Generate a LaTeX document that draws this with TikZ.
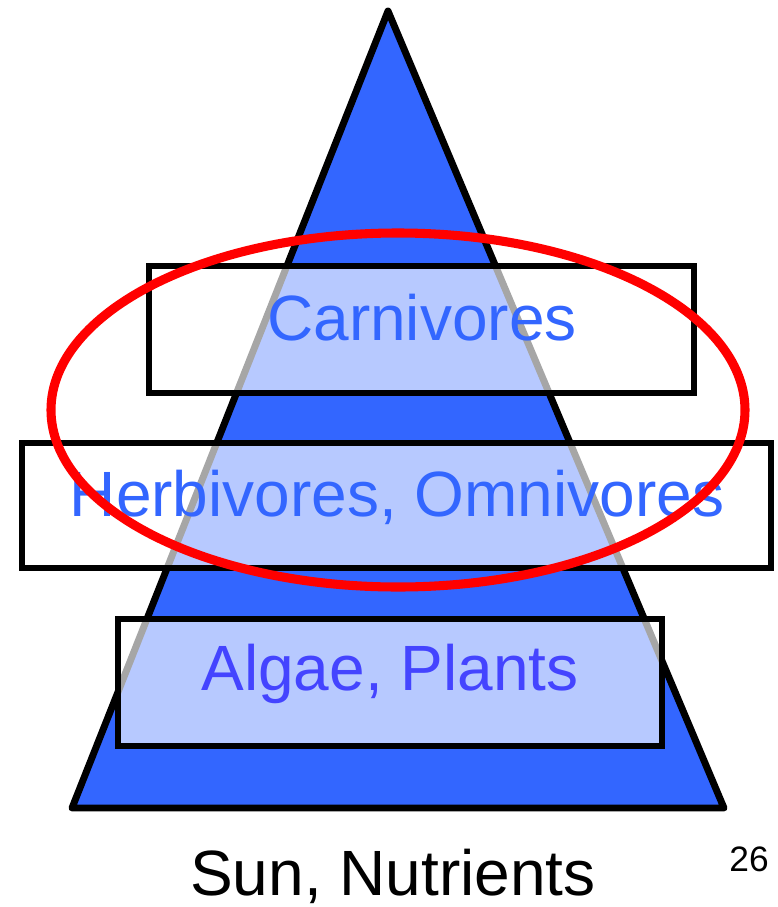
\documentclass[tikz,border=0pt]{standalone}
\usepackage{fontspec}
\setmainfont{Liberation Sans}
\definecolor{triblue}{HTML}{3366FF}
\definecolor{txtblue}{HTML}{3366FF}
\definecolor{txtpurple}{HTML}{4444FF}
\definecolor{ringred}{HTML}{FF0000}
\begin{document}
\begin{tikzpicture}[x=0.75pt,y=-0.75pt,
  tri/.style={draw=black,line width=5.2pt,line join=round,fill=triblue},
  level/.style={draw=black,line width=4.5pt,fill=white,fill opacity=0.65,draw opacity=1},
  lbl/.style={inner sep=0pt,anchor=base,font=\fontsize{48}{56}\selectfont},
  ring/.style={draw=ringred,line width=6.8pt}]
\useasboundingbox (0,0) rectangle (778,907);
\coordinate (apex) at (388,11);
\coordinate (bl) at (72,808);
\coordinate (br) at (724,808);
\draw[tri] (apex) -- (br) -- (bl) -- cycle;
\path[level] (149,266) rectangle (694,393);
\path[level] (22,443) rectangle (771,568);
\path[level] (118,619) rectangle (662,746);
\node[lbl,text=txtblue] (carn) at (422,340) {Carnivores};
\node[lbl,text=txtblue] (herb) at (397,516) {Herbivores, Omnivores};
\node[lbl,text=txtpurple] (alg) at (390,690) {Algae, Plants};
\node[lbl,text=black] (sun) at (393,895) {Sun, Nutrients};
\node[inner sep=0pt,anchor=base,font=\fontsize{26.5}{30}\selectfont] (pg) at (749,871) {26};
\draw[ring] (398,410) ellipse [x radius=347, y radius=177];
\end{tikzpicture}
\end{document}
